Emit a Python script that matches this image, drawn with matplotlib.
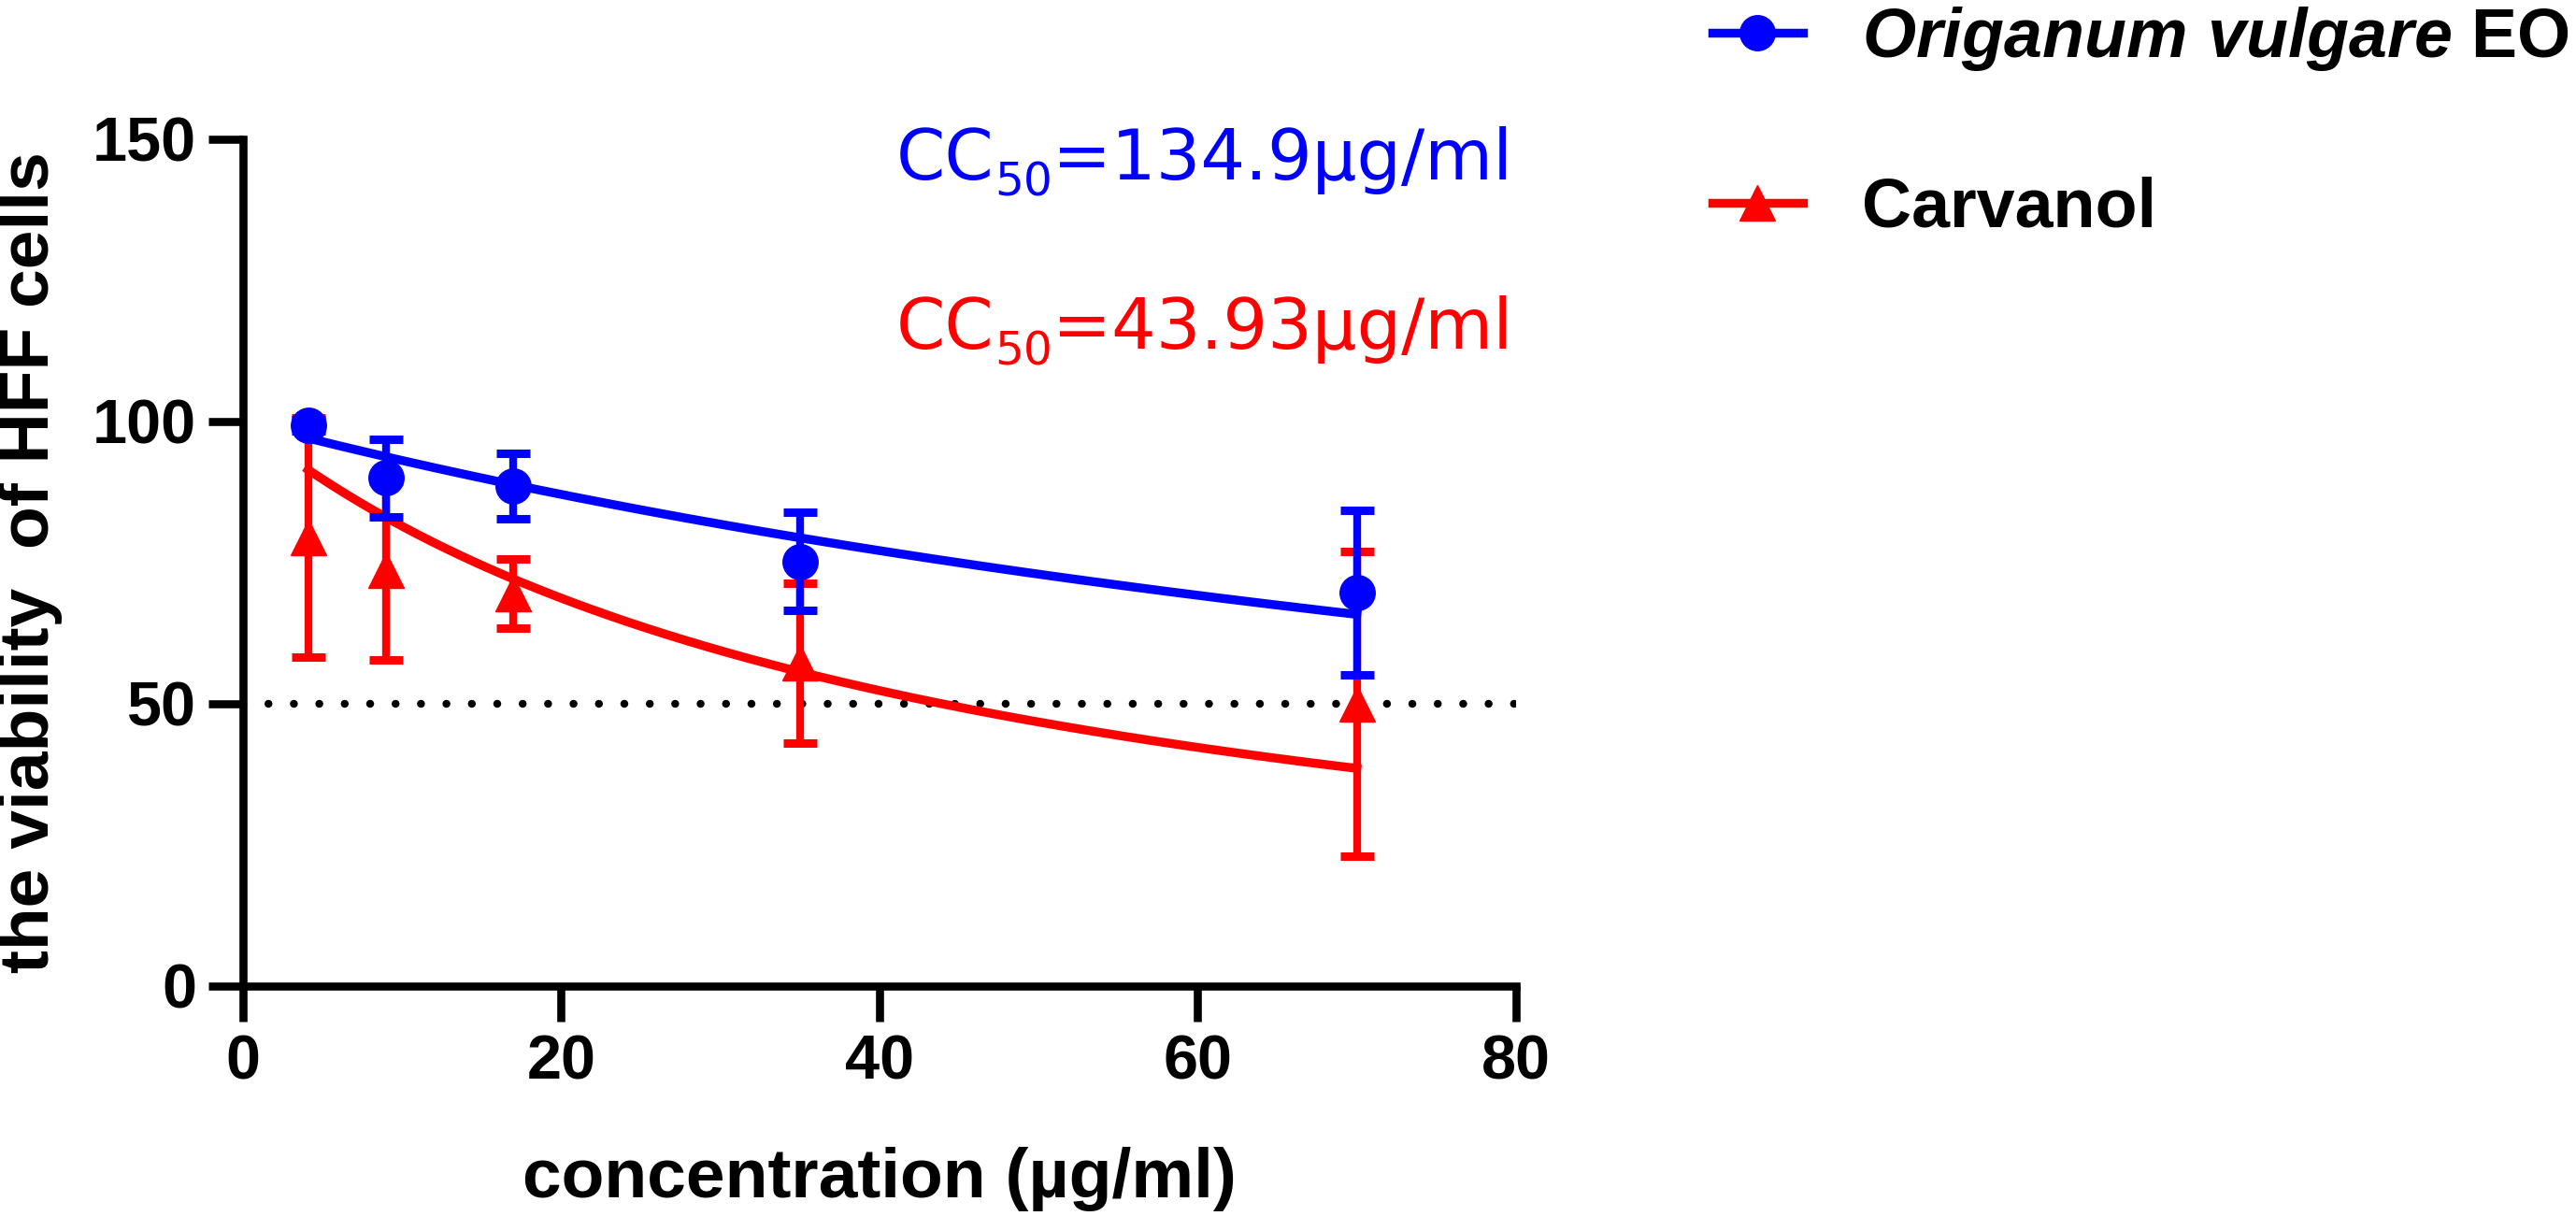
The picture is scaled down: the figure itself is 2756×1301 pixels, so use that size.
import numpy as np
import matplotlib
matplotlib.use("Agg")
import matplotlib.pyplot as plt
from matplotlib.lines import Line2D

plt.rcParams['font.family'] = ['Liberation Sans', 'DejaVu Sans']
plt.rcParams['font.weight'] = 'bold'
plt.rcParams['mathtext.fontset'] = 'custom'
plt.rcParams['mathtext.rm'] = 'Liberation Sans'
plt.rcParams['mathtext.it'] = 'Liberation Sans:italic'
plt.rcParams['mathtext.bf'] = 'Liberation Sans:bold'
plt.rcParams['mathtext.bfit'] = 'Liberation Sans:italic:bold'

# data (mean +/- SD)
conc = [4.1, 9, 17, 35, 70]
oregano_mean = [99.3, 90.0, 88.6, 75.2, 69.7]
oregano_sd = [1.0, 6.9, 5.8, 8.7, 14.5]
carvanol_mean = [79.4, 73.6, 69.5, 57.2, 50.0]
carvanol_sd = [21.2, 15.8, 6.1, 14.2, 27.0]

# fitted dose-response parameters shown on the chart
oregano_cc50 = 134.9
carvanol_cc50 = 43.93
hill = 1.0

BLUE = '#0000ff'
RED = '#ff0000'


def fit_curve(x, cc50):
    return 100.0 / (1.0 + (x / cc50) ** hill)


fig = plt.figure(figsize=(27.56, 13.01), dpi=100)
ax = fig.add_axes([0.0943, 0.1891, 0.4942, 0.6964])

# 50 % reference line
ax.axhline(50, color='black', lw=6.1, dashes=(0.01, 3.2), dash_capstyle='round', zorder=1)

xs = np.linspace(min(conc), max(conc), 300)
series = [
    (conc, carvanol_mean, carvanol_sd, carvanol_cc50, RED, '^'),
    (conc, oregano_mean, oregano_sd, oregano_cc50, BLUE, 'o'),
]
for i, (x, m, sd, cc50, col, mk) in enumerate(series):
    z = 2 + i * 2
    ax.plot(xs, fit_curve(xs, cc50), color=col, lw=6.8, zorder=z)
    ax.errorbar(x, m, yerr=sd, fmt=mk, color=col, ms=27, elinewidth=6,
                capsize=13.3, capthick=6.5, zorder=z + 1)

ax.set_xlim(0, 80)
ax.set_ylim(0, 150)
ax.set_xticks([0, 20, 40, 60, 80])
ax.set_yticks([0, 50, 100, 150])
for s in ['top', 'right']:
    ax.spines[s].set_visible(False)
for s in ['left', 'bottom']:
    ax.spines[s].set_linewidth(6.2)
ax.tick_params(width=6.2, length=27, labelsize=48)
ax.tick_params(axis='x', pad=10)
ax.tick_params(axis='y', pad=9)

ax.set_xlabel('concentration (µg/ml)', fontsize=54, fontweight='bold', labelpad=42)
ax.set_ylabel('the viability  of HFF cells', fontsize=54, fontweight='bold', labelpad=23)

# CC50 annotations, built right to left so the subscript sits in between
cc_font = dict(family='DejaVu Sans', fontweight='normal')
for cc50, col, ypos in [(oregano_cc50, BLUE, 0.953), (carvanol_cc50, RED, 0.753)]:
    t_rest = ax.text(0.997, ypos, f'={cc50:g}µg/ml', transform=ax.transAxes,
                     ha='right', va='baseline', fontsize=54, color=col, **cc_font)
    t_sub = ax.annotate('50', xy=(0, 0), xycoords=t_rest, xytext=(0, -8.5),
                        textcoords='offset points', ha='right', va='bottom',
                        fontsize=35, color=col, **cc_font)
    ax.annotate('CC', xy=(0, 0), xycoords=(t_sub, t_rest), ha='right', va='bottom',
                fontsize=54, color=col, **cc_font)

handles = [
    Line2D([], [], color=BLUE, marker='o', ms=27, lw=6.8),
    Line2D([], [], color=RED, marker='^', ms=27, lw=6.8),
]
labels = [r'$\mathbfit{Origanum\ vulgare}$ EO', 'Carvanol']
fig.legend(handles, labels, loc='upper left', bbox_to_anchor=(0.6647, 0.996),
           frameon=False, fontsize=53, borderpad=0, borderaxespad=0,
           handlelength=1.32, handletextpad=0.85, labelspacing=1.5)

fig.savefig('out.png', dpi=100)
